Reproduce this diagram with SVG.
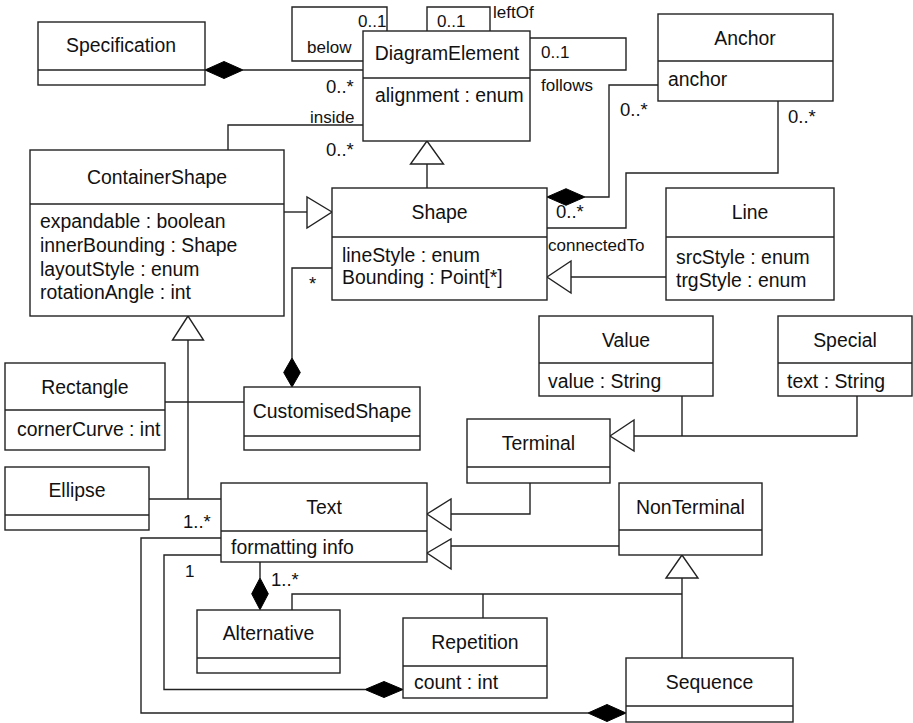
<svg xmlns="http://www.w3.org/2000/svg" width="913" height="723" viewBox="0 0 913 723">
  <style>
    .box { fill: #fff; stroke: #222; stroke-width: 1.4; }
    .div { stroke: #222; stroke-width: 1.4; }
    .ln { fill: none; stroke: #222; stroke-width: 1.4; }
    .gen { fill: #fff; stroke: #222; stroke-width: 1.4; stroke-linejoin: miter; }
    .comp { fill: #000; stroke: #000; stroke-width: 1; }
    .t { font-family: "Liberation Sans", Arial, sans-serif; font-size: 19.4px; fill: #111; }
    .c { text-anchor: middle; }
    .lbl { font-family: "Liberation Sans", Arial, sans-serif; font-size: 17px; fill: #111; }
    .m { font-size: 18.5px; }
  </style>
  <rect width="913" height="723" fill="#fff"/>

  <!-- connectors -->
  <g id="connectors">
    <!-- Specification composes DiagramElement -->
    <line class="ln" x1="243" y1="70" x2="363" y2="70"/>
    <polygon class="comp" points="205,70 224,61.5 243,70 224,78.5"/>
    <!-- self associations of DiagramElement -->
    <polyline class="ln" points="387,31 387,7 292,7 292,61 363,61"/>
    <polyline class="ln" points="427,31 427,7 490,7 490,31"/>
    <polyline class="ln" points="530,38 626,38 626,70 530,70"/>
    <polyline class="ln" points="363,125 228,125 228,150"/>
    <!-- Shape is a DiagramElement -->
    <line class="ln" x1="427" y1="188" x2="427" y2="164"/>
    <polygon class="gen" points="427,141 410.5,164 443.5,164"/>
    <!-- Anchor associations -->
    <polyline class="ln" points="658,85 609,85 609,197 585,197"/>
    <polygon class="comp" points="547,197 566,188.7 585,197 566,205.3"/>
    <polyline class="ln" points="778,101 778,173 626,173 626,228 547,228"/>
    <!-- Line is a Shape -->
    <line class="ln" x1="666" y1="277" x2="571" y2="277"/>
    <polygon class="gen" points="547,277 571,261 571,293"/>
    <!-- ContainerShape is a Shape -->
    <line class="ln" x1="284" y1="212" x2="307" y2="212"/>
    <polygon class="gen" points="332,212 307,197 307,228"/>
    <!-- CustomisedShape composes Shapes -->
    <polyline class="ln" points="332,268 292,268 292,358"/>
    <polygon class="comp" points="292,358 300.3,372.5 292,387 283.7,372.5"/>
    <!-- ContainerShape subclasses -->
    <polygon class="gen" points="188,316 172.5,340 203.5,340"/>
    <line class="ln" x1="188" y1="340" x2="188" y2="499"/>
    <line class="ln" x1="165" y1="402" x2="244" y2="402"/>
    <line class="ln" x1="149" y1="499" x2="221" y2="499"/>
    <!-- Text self compositions via Sequence and Repetition -->
    <polyline class="ln" points="221,538 141,538 141,713 588,713"/>
    <polygon class="comp" points="588,713 607,704.5 626,713 607,721.5"/>
    <polyline class="ln" points="221,555 164,555 164,689.5 365,689.5"/>
    <polygon class="comp" points="365,689.5 384,681.5 403,689.5 384,697.5"/>
    <!-- Alternative composes Text -->
    <line class="ln" x1="260" y1="562" x2="260" y2="578"/>
    <polygon class="comp" points="260,578 268.3,593.8 260,609.7 251.7,593.8"/>
    <!-- NonTerminal subclasses -->
    <polyline class="ln" points="292,610 292,594 682,594"/>
    <line class="ln" x1="483" y1="618" x2="483" y2="594"/>
    <line class="ln" x1="682" y1="658" x2="682" y2="578"/>
    <polygon class="gen" points="682,555 666,578 698,578"/>
    <!-- NonTerminal and Terminal are Text -->
    <line class="ln" x1="619" y1="546" x2="451" y2="546"/>
    <polygon class="gen" points="427,553 451,539 451,569"/>
    <polyline class="ln" points="530,483 530,514 451,514"/>
    <polygon class="gen" points="427,514 451,499 451,530"/>
    <!-- Value and Special are Terminal -->
    <polyline class="ln" points="857,396 857,436 634,436"/>
    <line class="ln" x1="682" y1="396" x2="682" y2="436"/>
    <polygon class="gen" points="610,436 634,420 634,451"/>

    <!-- role names and multiplicities -->
    <text class="lbl" x="358" y="27">0..1</text>
    <text class="lbl" x="307" y="53">below</text>
    <text class="lbl" x="437" y="27">0..1</text>
    <text class="lbl" x="493" y="18">leftOf</text>
    <text class="lbl" x="541" y="58">0..1</text>
    <text class="lbl" x="541" y="91">follows</text>
    <text class="lbl m" x="326" y="93">0..*</text>
    <text class="lbl" x="310" y="123">inside</text>
    <text class="lbl m" x="326" y="156">0..*</text>
    <text class="lbl m" x="620" y="116">0..*</text>
    <text class="lbl m" x="788" y="123">0..*</text>
    <text class="lbl m" x="556" y="218">0..*</text>
    <text class="lbl" x="548" y="251">connectedTo</text>
    <text class="lbl m" x="309" y="290">*</text>
    <text class="lbl m" x="183" y="528">1..*</text>
    <text class="lbl" x="185" y="577">1</text>
    <text class="lbl m" x="271" y="586">1..*</text>
  </g>

  <!-- classes -->
  <g id="Specification">
    <rect class="box" x="38" y="22" width="167" height="63"/>
    <line class="div" x1="38" y1="70" x2="205" y2="70"/>
    <text class="t c" x="121" y="52">Specification</text>
  </g>
  <g id="DiagramElement">
    <rect class="box" x="363" y="31" width="167" height="110"/>
    <line class="div" x1="363" y1="78" x2="530" y2="78"/>
    <text class="t c" x="447" y="60">DiagramElement</text>
    <text class="t" x="375" y="102">alignment : enum</text>
  </g>
  <g id="Anchor">
    <rect class="box" x="658" y="14" width="175" height="87"/>
    <line class="div" x1="658" y1="61" x2="833" y2="61"/>
    <text class="t c" x="745" y="45">Anchor</text>
    <text class="t" x="668" y="86">anchor</text>
  </g>
  <g id="ContainerShape">
    <rect class="box" x="30" y="150" width="254" height="166"/>
    <line class="div" x1="30" y1="204" x2="284" y2="204"/>
    <text class="t c" x="157" y="184">ContainerShape</text>
    <text class="t" x="40" y="228">expandable : boolean</text>
    <text class="t" x="40" y="252">innerBounding : Shape</text>
    <text class="t" x="40" y="276">layoutStyle : enum</text>
    <text class="t" x="40" y="299">rotationAngle : int</text>
  </g>
  <g id="Shape">
    <rect class="box" x="332" y="188" width="215" height="112"/>
    <line class="div" x1="332" y1="237" x2="547" y2="237"/>
    <text class="t c" x="439.5" y="219">Shape</text>
    <text class="t" x="342" y="262">lineStyle : enum</text>
    <text class="t" x="342" y="284">Bounding : Point[*]</text>
  </g>
  <g id="Line">
    <rect class="box" x="666" y="188" width="168" height="112"/>
    <line class="div" x1="666" y1="237" x2="834" y2="237"/>
    <text class="t c" x="750" y="219">Line</text>
    <text class="t" x="676" y="264">srcStyle : enum</text>
    <text class="t" x="676" y="287">trgStyle : enum</text>
  </g>
  <g id="Value">
    <rect class="box" x="539" y="316" width="174" height="80"/>
    <line class="div" x1="539" y1="363" x2="713" y2="363"/>
    <text class="t c" x="626" y="347">Value</text>
    <text class="t" x="548" y="388">value : String</text>
  </g>
  <g id="Special">
    <rect class="box" x="778" y="316" width="134" height="80"/>
    <line class="div" x1="778" y1="363" x2="912" y2="363"/>
    <text class="t c" x="845" y="347">Special</text>
    <text class="t" x="787" y="388">text : String</text>
  </g>
  <g id="Rectangle">
    <rect class="box" x="5" y="363" width="160" height="87"/>
    <line class="div" x1="5" y1="410" x2="165" y2="410"/>
    <text class="t c" x="85" y="394">Rectangle</text>
    <text class="t" x="17" y="436">cornerCurve : int</text>
  </g>
  <g id="CustomisedShape">
    <rect class="box" x="244" y="387" width="176" height="63"/>
    <line class="div" x1="244" y1="436" x2="420" y2="436"/>
    <text class="t c" x="332" y="418">CustomisedShape</text>
  </g>
  <g id="Terminal">
    <rect class="box" x="467" y="419" width="143" height="64"/>
    <line class="div" x1="467" y1="467" x2="610" y2="467"/>
    <text class="t c" x="538.5" y="450">Terminal</text>
  </g>
  <g id="Ellipse">
    <rect class="box" x="5" y="467" width="144" height="63"/>
    <line class="div" x1="5" y1="515" x2="149" y2="515"/>
    <text class="t c" x="77" y="497">Ellipse</text>
  </g>
  <g id="Text">
    <rect class="box" x="221" y="483" width="206" height="79"/>
    <line class="div" x1="221" y1="531" x2="427" y2="531"/>
    <text class="t c" x="324" y="514">Text</text>
    <text class="t" x="231" y="554">formatting info</text>
  </g>
  <g id="NonTerminal">
    <rect class="box" x="619" y="483" width="143" height="72"/>
    <line class="div" x1="619" y1="530" x2="762" y2="530"/>
    <text class="t c" x="690.5" y="514">NonTerminal</text>
  </g>
  <g id="Alternative">
    <rect class="box" x="197" y="610" width="143" height="63"/>
    <line class="div" x1="197" y1="658" x2="340" y2="658"/>
    <text class="t c" x="268.5" y="640">Alternative</text>
  </g>
  <g id="Repetition">
    <rect class="box" x="403" y="618" width="144" height="80"/>
    <line class="div" x1="403" y1="666" x2="547" y2="666"/>
    <text class="t c" x="475" y="649">Repetition</text>
    <text class="t" x="414" y="689">count : int</text>
  </g>
  <g id="Sequence">
    <rect class="box" x="626" y="658" width="167" height="64"/>
    <line class="div" x1="626" y1="706" x2="793" y2="706"/>
    <text class="t c" x="709.5" y="689">Sequence</text>
  </g>
</svg>
